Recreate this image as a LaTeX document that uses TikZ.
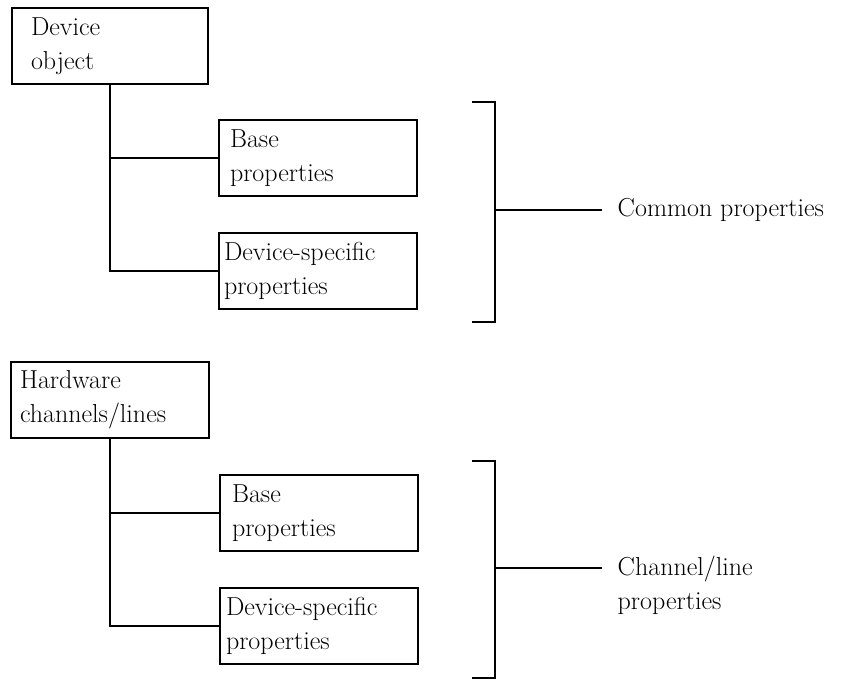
\documentclass[tikz,border=0pt]{standalone}
\usetikzlibrary{calc}
\tikzset{
 propbox/.style={draw, minimum height=76pt, inner xsep=8pt, inner ysep=0pt, align=left, text width=#1, font=\fontsize{26}{34}\selectfont},
 proplabel/.style={anchor=west, inner sep=0pt, align=left, font=\fontsize{26}{34}\selectfont},
}
\begin{document}
\begin{tikzpicture}[x=1pt,y=-1pt,line width=1.4pt]
\useasboundingbox (0,0) rectangle (863,680);
% device object and its properties
\node[propbox=158pt, inner xsep=19pt] (devobj) at (110,46) {Device\\object};
\node[propbox=176pt, inner xsep=11pt] (devbase) at (318,158) {Base\\properties};
\node[propbox=188pt, inner xsep=5pt] (devspec) at (318,271) {Device-specific\\properties};
\draw (devobj.south) |- (devbase.west);
\draw (devobj.south) |- (devspec.west);
\coordinate (cbtop) at (472,102);
\coordinate (cbbot) at (472,322);
\coordinate (cbmid) at (495,210);
\coordinate (cbend) at (602,210);
\draw (cbtop) -- ++(23,0) |- (cbbot);
\draw (cbmid) -- (cbend);
\node[proplabel] (common) at (617,210) {Common properties};
% hardware channels and their properties
\node[propbox=180pt, inner xsep=9pt] (hwchan) at (110,400) {Hardware\\channels/lines};
\node[propbox=174pt, inner xsep=12pt] (chbase) at (319,513) {Base\\properties};
\node[propbox=186pt, inner xsep=6pt] (chspec) at (319,626) {Device-specific\\properties};
\draw (hwchan.south) |- (chbase.west);
\draw (hwchan.south) |- (chspec.west);
\coordinate (lbtop) at (472,461);
\coordinate (lbbot) at (472,678);
\coordinate (lbmid) at (495,568);
\coordinate (lbend) at (602,568);
\draw (lbtop) -- ++(23,0) |- (lbbot);
\draw (lbmid) -- (lbend);
\node[proplabel] (chline) at (617,585) {Channel/line\\properties};
\end{tikzpicture}
\end{document}
